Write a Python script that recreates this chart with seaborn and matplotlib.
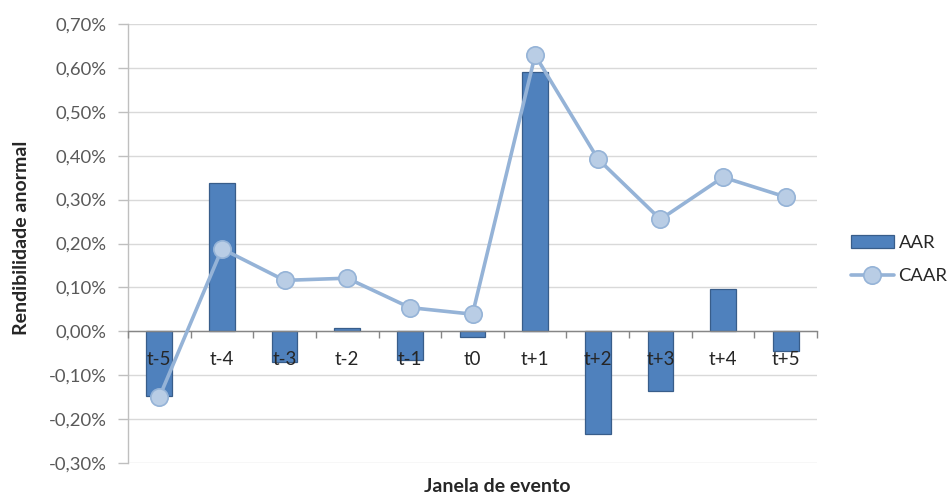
import numpy as np
import pandas as pd
import matplotlib
matplotlib.use("Agg")
import matplotlib.pyplot as plt
import seaborn as sns
from matplotlib.ticker import FuncFormatter, FixedLocator
from matplotlib.patches import Patch
from matplotlib.lines import Line2D

# Event window and abnormal returns (in %)
categories = ["t-5", "t-4", "t-3", "t-2", "t-1", "t0", "t+1", "t+2", "t+3", "t+4", "t+5"]
aar = [-0.148, 0.337, -0.071, 0.007, -0.065, -0.013, 0.591, -0.234, -0.135, 0.096, -0.046]
caar = [-0.150, 0.188, 0.116, 0.121, 0.054, 0.039, 0.629, 0.393, 0.255, 0.351, 0.306]
y_ticks = [-0.30, -0.20, -0.10, 0.00, 0.10, 0.20, 0.30, 0.40, 0.50, 0.60, 0.70]

BAR_FACE = "#4F81BD"
BAR_EDGE = "#385D8A"
LINE_COL = "#95B3D7"
MARK_FACE = "#B9CDE5"
LW = 2.6
MS = 12.5

sns.set_theme(style="white")
plt.rcParams["font.family"] = ["Lato", "DejaVu Sans"]

df = pd.DataFrame({"Janela": categories, "AAR": aar, "CAAR": caar})

fig = plt.figure(figsize=(9.49, 4.96), dpi=100)
ax = fig.add_axes([128 / 949, 1 - 463 / 496, 689 / 949, 439 / 496])

sns.barplot(data=df, x="Janela", y="AAR", color=BAR_FACE, saturation=1,
            width=0.41, edgecolor=BAR_EDGE, linewidth=0.9, ax=ax, zorder=2)

pos = np.arange(len(categories))
sns.lineplot(x=pos, y=df["CAAR"].to_numpy(), color=LINE_COL, linewidth=LW,
             marker="o", markersize=MS, markerfacecolor=MARK_FACE,
             markeredgecolor=LINE_COL, markeredgewidth=1.2, ax=ax, zorder=5)

ax.set_xlim(-0.5, len(categories) - 0.5)
ax.set_ylim(y_ticks[0], y_ticks[-1])
ax.yaxis.set_major_locator(FixedLocator(y_ticks))
ax.yaxis.set_major_formatter(FuncFormatter(lambda v, _: f"{v:.2f}%".replace(".", ",")))

# horizontal gridlines behind bars, category labels over them
ax.yaxis.grid(True, color="#D9D9D9", linewidth=1)
ax.xaxis.grid(False)
ax.yaxis.set_zorder(0.5)
ax.xaxis.set_zorder(3)

for s in ("top", "right"):
    ax.spines[s].set_visible(False)
ax.spines["left"].set_color("#BFBFBF")
ax.spines["left"].set_linewidth(1)
ax.spines["bottom"].set_position(("data", 0))
ax.spines["bottom"].set_color("#868686")
ax.spines["bottom"].set_linewidth(1)

ax.set_xticks(pos)
ax.set_xticklabels(categories)
ax.xaxis.set_minor_locator(FixedLocator(np.arange(len(categories) + 1) - 0.5))
ax.tick_params(axis="x", which="major", length=0, pad=14.5, labelsize=13.5, labelcolor="#262626")
ax.tick_params(axis="x", which="minor", length=5, width=1, color="#868686", direction="out", bottom=True)
ax.tick_params(axis="y", which="major", length=7, width=1, color="#BFBFBF", direction="out",
               left=True, pad=8.5, labelsize=13.3, labelcolor="#595959")

ax.set_xlabel("Janela de evento", fontweight="bold", fontsize=14, color="#262626")
ax.xaxis.set_label_coords((497 - 128) / 689, (463 - 478) / 439)
ax.set_ylabel("Rendibilidade anormal", fontweight="bold", fontsize=14, color="#262626")
ax.yaxis.set_label_coords((30 - 128) / 689, (463 - 238) / 439)

handles = [
    Patch(facecolor=BAR_FACE, edgecolor=BAR_EDGE, linewidth=0.9),
    Line2D([], [], color=LINE_COL, linewidth=LW, marker="o", markersize=MS,
           markerfacecolor=MARK_FACE, markeredgecolor=LINE_COL, markeredgewidth=1.2),
]
fig.legend(handles, ["AAR", "CAAR"], loc="center left",
           bbox_to_anchor=(851 / 949, 1 - 259.5 / 496), frameon=False,
           borderpad=0, borderaxespad=0,
           fontsize=13.3, handlelength=2.32, handleheight=0.65, labelspacing=0.92,
           handletextpad=0.25, labelcolor="#262626")

fig.savefig("out.png", dpi=100)
